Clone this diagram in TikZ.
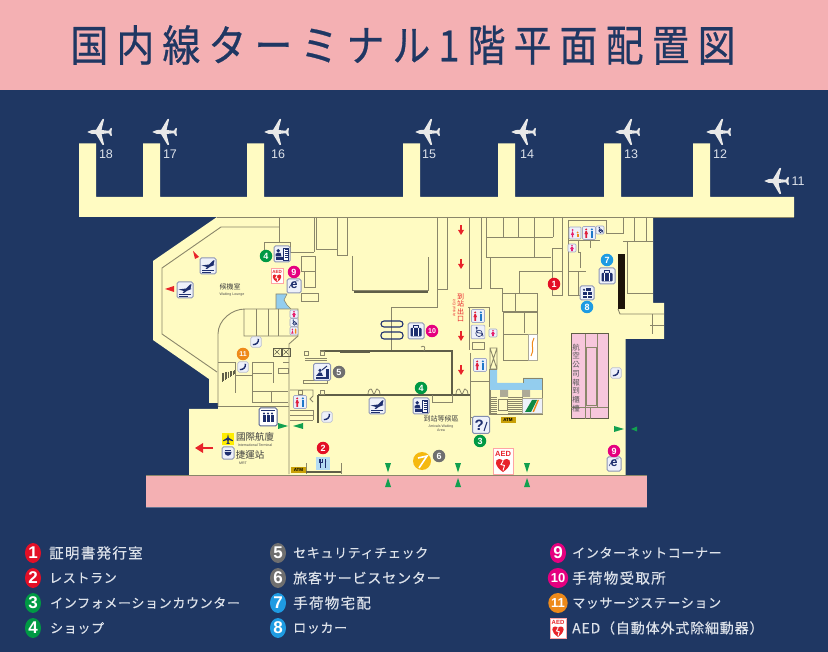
\documentclass[tikz,border=0pt]{standalone}
\usepackage{fontspec}
\usetikzlibrary{shapes.geometric}
\setmainfont{Liberation Sans}
\newfontfamily\jptitle[LetterSpace=19,FakeStretch=0.88,FakeBold=0.6]{Noto Sans CJK JP}
\newfontfamily\jpkana[LetterSpace=5,FakeBold=0.4]{Noto Sans CJK JP}
\newfontfamily\jpkanji[LetterSpace=9,FakeBold=0.4]{Noto Sans CJK JP}
\newfontfamily\jpmix[LetterSpace=6,FakeBold=0.4]{Noto Sans CJK JP}
\newfontfamily\tcfont{Noto Sans CJK TC}
\definecolor{navybg}{HTML}{1F3763}
\definecolor{headpink}{HTML}{F4B0B3}
\definecolor{floorc}{HTML}{FFFBC2}
\definecolor{wallc}{HTML}{8A866A}
\definecolor{wallk}{HTML}{5F5E48}
\definecolor{icnavy}{HTML}{1E2F6E}
\definecolor{icframe}{HTML}{8D95B5}
\definecolor{icfill}{HTML}{EEF1FA}
\definecolor{roomblue}{HTML}{93CDEE}
\definecolor{reddot}{HTML}{E30F26}
\definecolor{greendot}{HTML}{009944}
\definecolor{greydot}{HTML}{6F6F6F}
\definecolor{bluedot}{HTML}{1E9BE2}
\definecolor{magdot}{HTML}{E5007F}
\definecolor{orgdot}{HTML}{EE8A1A}
\definecolor{legtext}{HTML}{DDE2EA}
\definecolor{arrgreen}{HTML}{12A050}
\definecolor{arrred}{HTML}{E8242A}
\definecolor{atmc}{HTML}{C9A008}
\definecolor{pinkroom}{HTML}{F7C7DC}
\definecolor{toilm}{HTML}{1E78C8}
\definecolor{toilf}{HTML}{E6206E}
\definecolor{toilr}{HTML}{E0203C}
\tikzset{
  wall/.style={draw=wallc,line width=0.9pt},
  thickwall/.style={draw=wallk,line width=1.3pt},
  numdot/.style={circle,inner sep=0pt,minimum size=12.5pt,text=white,font=\bfseries\fontsize{9}{9}\selectfont},
  legdot/.style={ellipse,inner sep=0pt,minimum width=16pt,minimum height=20pt,text=white,font=\bfseries\fontsize{17}{17}\selectfont},
  legdotsm/.style={legdot,font=\bfseries\fontsize{13}{13}\selectfont},
  legkana/.style={anchor=west,inner sep=0pt,text=legtext,font=\jpkana\fontsize{13}{13}\selectfont},
  legkanji/.style={anchor=west,inner sep=0pt,text=legtext,font=\jpkanji\fontsize{14.5}{14.5}\selectfont},
  legmix/.style={anchor=west,inner sep=0pt,text=legtext,font=\jpmix\fontsize{14}{14}\selectfont},
  gatenum/.style={inner sep=0pt,text=legtext,font=\fontsize{12.5}{12.5}\selectfont},
  iconframe/.style={draw=icframe,fill=icfill,line width=1pt,rounded corners=1.5pt},
  tiny/.style={inner sep=0pt,text=black!70,font=\fontsize{3.6}{4.2}\selectfont,align=center},
  maplabel/.style={inner sep=0pt,text=black!75,font=\tcfont\fontsize{7}{7}\selectfont},
  vertred/.style={inner sep=0pt,text=arrred,align=center,font=\tcfont\fontsize{7}{7.5}\selectfont},
  vertgrey/.style={inner sep=0pt,text=black!65,align=center,font=\tcfont\fontsize{7.5}{8.75}\selectfont},
  atmtag/.style={fill=atmc,inner sep=0pt,minimum width=15pt,minimum height=6pt,text=black,font=\bfseries\fontsize{4.5}{4.5}\selectfont},
  greentip/.style={fill=arrgreen},
  redtip/.style={fill=arrred},
  gateplane/.pic={
    \fill[gray!18!white,rounded corners=0.6pt] (0,0) -- (5,-2) -- (9,-2) -- (15.5,-13) -- (17.2,-13) -- (14.5,-2) -- (22,-1.2) -- (23.6,-4) -- (25,-4) -- (24.4,0) -- (25,4) -- (23.6,4) -- (22,1.2) -- (14.5,2) -- (17.2,13) -- (15.5,13) -- (9,2) -- (5,2) -- cycle;
  },
  departic/.pic={
    \draw[iconframe] (-8,-8) rectangle (8,8);
    \fill[icnavy] (-6.5,-0.5) -- (1,-1.5) -- (5,-5.5) -- (6.5,-5.5) -- (5.5,-1.5) -- (6.5,-1) -- (2,0.8) -- (-1,3) -- (-2.5,3) -- (-1,1) -- cycle;
    \fill[icnavy] (-6,4.2) rectangle (6,5);
    \fill[icnavy] (-6,6) rectangle (3,6.6);
  },
  shopic/.pic={
    \draw[iconframe] (-8,-8) rectangle (8,8);
    \fill[icnavy] (-3.8,-3.2) circle (1.9);
    \fill[icnavy] (-6.5,2.5) -- (-6.5,0) -- (-4.5,-1.2) -- (-1.5,-1.2) -- (-0.5,2.5) -- cycle;
    \fill[icnavy] (-6.5,3.5) rectangle (1,6.2);
    \fill[white,draw=icnavy,line width=0.3pt] (1.5,-6) rectangle (6.5,6);
    \foreach \yy in {-4.5,-2.5,-0.5,1.5,3.5}{\draw[icnavy,line width=0.5pt] (2.5,\yy) -- (5.5,\yy);}
  },
  secic/.pic={
    \draw[iconframe] (-8.5,-8.5) rectangle (8.5,8.5);
    \fill[icnavy] (-2,-1.6) circle (1.7);
    \fill[icnavy] (-6,4) -- (-3,0.4) -- (-0.5,0.6) -- (1,4) -- cycle;
    \draw[icnavy,line width=1pt] (0,-2) -- (5,-6);
    \fill[icnavy] (3.5,-3) rectangle (6.5,6);
    \fill[icnavy] (-6.5,5) rectangle (6.5,6.6);
  },
  phoneic/.pic={
    \draw[draw=icframe!60,fill=icfill,line width=0.7pt,rounded corners=1.5pt] (-5.2,-5.2) rectangle (5.2,5.2);
    \draw[icnavy,line width=1.4pt] (2.4,-3.2) .. controls (2.8,0.6) and (0.4,2.8) .. (-3.2,2.6);
  },
  luggageic/.pic={
    \draw[iconframe] (-8,-8) rectangle (8,8);
    \fill[icnavy,rounded corners=0.8pt] (-5.5,-3) rectangle (5.5,5.5);
    \draw[icnavy,line width=0.9pt] (-2.2,-3) -- (-2.2,-5.5) -- (2.2,-5.5) -- (2.2,-3);
    \draw[white,line width=0.5pt] (-2.5,-3) -- (-2.5,5.5) (2.5,-3) -- (2.5,5.5);
  },
  lockeric/.pic={
    \draw[iconframe] (-7,-7) rectangle (7,7);
    \fill[icnavy] (-4.5,-1) rectangle (4.5,5);
    \fill[icnavy] (-1,-4.5) rectangle (3.5,-2);
    \fill[icnavy] (-3,-3.2) circle (1.2);
    \draw[white,line width=0.4pt] (-4.5,2) -- (4.5,2) (0,-1) -- (0,5);
  },
  eic/.pic={
    \draw[iconframe] (-7,-7) rectangle (7,7);
    \node[inner sep=0pt,text=icnavy,font=\bfseries\fontsize{12.5}{12.5}\selectfont] (e) at (0,-0.6) {e};
    \draw[icnavy,line width=0.5pt] (-5,2) .. controls (-3,-3) and (2,-6) .. (4.5,-5);
  },
  wcpair/.pic={
    \draw[draw=icframe!80,fill=icfill,line width=0.7pt,rounded corners=1pt] (-6.5,-6.5) rectangle (6.5,6.5);
    \fill[toilr] (-2.8,-3.6) circle (1.1);
    \fill[toilr] (-4.6,1.2) -- (-3.4,-2.2) -- (-2.2,-2.2) -- (-1,1.2) -- (-2,1.2) -- (-2,4.8) -- (-3.6,4.8) -- (-3.6,1.2) -- cycle;
    \fill[toilm] (2.8,-3.6) circle (1.1);
    \fill[toilm] (1.5,-2.2) rectangle (4.1,1.2);
    \fill[toilm] (1.8,1.2) rectangle (3.8,4.8);
  },
  wcmixbig/.pic={
    \draw[draw=icframe!80,fill=icfill,line width=0.7pt,rounded corners=1pt] (-6,-6) rectangle (6,6);
    \fill[toilf] (-2.5,-3) circle (1);
    \fill[toilf] (-4.2,2) -- (-2.5,-1.8) -- (-0.8,2) -- (-1.8,2) -- (-1.8,4.5) -- (-3.2,4.5) -- (-3.2,2) -- cycle;
    \fill[orgdot] (2.5,-0.5) circle (1);
    \fill[orgdot] (1.5,0.8) rectangle (3.5,4.5);
  },
  wcfem/.pic={
    \draw[draw=icframe!80,fill=icfill,line width=0.6pt,rounded corners=1pt] (-4,-4) rectangle (4,4);
    \fill[toilf] (0,-2.2) circle (0.9);
    \fill[toilf] (-2,1.2) -- (-0.7,-1.2) -- (0.7,-1.2) -- (2,1.2) -- (0.8,1.2) -- (0.8,3.2) -- (-0.8,3.2) -- (-0.8,1.2) -- cycle;
  },
  wcacc/.pic={
    \draw[draw=icframe!80,fill=icfill,line width=0.6pt,rounded corners=1pt] (-4,-4) rectangle (4,4);
    \draw[icnavy,line width=0.6pt] (0.6,0.8) circle (1.9);
    \fill[icnavy] (-0.8,-2.4) circle (0.7);
    \draw[icnavy,line width=0.7pt] (-0.8,-1.6) -- (-0.4,0.4) -- (2.4,0.8) -- (3,2.6);
  },
  wcmix/.pic={
    \draw[draw=icframe!80,fill=icfill,line width=0.6pt,rounded corners=1pt] (-4,-4) rectangle (4,4);
    \fill[toilf] (-1.6,-1.6) circle (0.8) (-2.8,2.6) -- (-1.6,-0.8) -- (-0.4,2.6) -- cycle;
    \fill[orgdot] (1.6,-1.6) circle (0.8) (0.8,-0.8) rectangle (2.4,2.6);
  },
  aedic/.pic={
    \draw[draw=red!35!pink!70,fill=white,line width=1pt] (-10,-12.5) rectangle (10,12.5);
    \node[inner sep=0pt,text=arrred,transform shape,font=\bfseries\fontsize{7.5}{7.5}\selectfont] (t) at (0,-7.5) {AED};
    \fill[arrred] (0,10.5) .. controls (-9,4.5) and (-8.5,-2.5) .. (-3.8,-2.5) .. controls (-2,-2.5) and (-0.6,-1.6) .. (0,-0.5) .. controls (0.6,-1.6) and (2,-2.5) .. (3.8,-2.5) .. controls (8.5,-2.5) and (9,4.5) .. (0,10.5) -- cycle;
    \draw[white,line width=0.9pt] (0,-0.5) -- (-2,3) -- (1.5,4) -- (0,9);
  },
  gatelevator/.pic={
    \draw[draw=icnavy!75,fill=white,line width=1pt,rounded corners=1.5pt] (-9,-9) rectangle (9,9);
    \foreach \xx in {-4,0,4}{
      \fill[icnavy] (\xx,-3.5) circle (1.2);
      \fill[icnavy] (\xx-1.5,-2) rectangle (\xx+1.5,5.5);
    }
    \fill[icnavy] (-7,-7) rectangle (7,-6.2);
  },
  foodic/.pic={
    \fill[roomblue!70] (-7,-6.5) rectangle (7,6.5);
    \draw[icnavy,line width=1pt] (-2.4,-4.5) -- (-2.4,4.5) (2.2,-4.5) -- (2.2,4.5);
    \draw[icnavy,line width=0.5pt] (-3.6,-4.5) -- (-3.6,-1) -- (-1.2,-1) -- (-1.2,-4.5);
    \fill[icnavy] (2.2,-4.5) .. controls (3.6,-3) and (3.4,-1) .. (2.2,-0.5) -- cycle;
  },
  infoic/.pic={
    \draw[draw=icnavy!55,fill=icfill,line width=1pt,rounded corners=1.5pt] (-8.5,-8.5) rectangle (8.5,8.5);
    \node[inner sep=0pt,text=icnavy,font=\bfseries\fontsize{15}{15}\selectfont] (q) at (-1.8,0) {?};
    \draw[icnavy,line width=1pt] (6,-3) -- (3,6);
  },
  evaic/.pic={
    \draw[draw=wallc!70,fill=icfill,line width=0.8pt] (-10,-7.5) rectangle (10,7.5);
    \fill[arrgreen!85!black] (-7,6) -- (0,-6) -- (5,-6) -- (-1,6) -- cycle;
    \fill[orgdot] (5.5,-6) -- (7,-6) -- (2,6) -- (0.5,6) -- cycle;
  },
  mrtic/.pic={
    \draw[iconframe] (-6,-6) rectangle (6,6);
    \fill[icnavy] (-3.5,-1) arc[start angle=180,end angle=360,x radius=3.5,y radius=-3.8] -- cycle;
    \draw[icnavy,line width=0.7pt] (-2.8,-2.6) -- (2.8,-2.6);
  },
  airportic/.pic={
    \fill[yellow!95!orange] (-6,-6) rectangle (6,6);
    \fill[icnavy] (0,-5) -- (0.8,-1.2) -- (4.8,1.2) -- (4.8,2.2) -- (0.8,1) -- (0.6,3.6) -- (1.8,4.8) -- (-1.8,4.8) -- (-0.6,3.6) -- (-0.8,1) -- (-4.8,2.2) -- (-4.8,1.2) -- (-0.8,-1.2) -- cycle;
  },
  xbox/.pic={
    \draw[wallk,line width=0.6pt] (-4,-4) rectangle (4,4);
    \draw[wallk,line width=0.6pt] (-2.5,-2.5) -- (2.5,2.5) (-2.5,2.5) -- (2.5,-2.5);
  },
  stairs/.pic={
    \foreach \xx in {0,1.6,...,13}{\draw[wallk,line width=0.7pt] (\xx,5-\xx*0.2) -- (\xx,14-\xx*0.6);}
  },
  bagdoor/.pic={
    \draw[wallc,line width=0.8pt] (0,5) .. controls (0,0) and (3,0) .. (3,0) .. controls (4,0) and (5,5) .. (6,5) .. controls (7,5) and (8,0) .. (9,0) .. controls (11,0) and (12,3) .. (12,5);
  },
}
\begin{document}
\begin{tikzpicture}[x=1pt,y=-1pt]
\useasboundingbox (0,0) rectangle (828,652);
% backgrounds
\fill[navybg] (0,0) rectangle (828,652);
\fill[headpink] (0,0) rectangle (828,90);
\node[inner sep=0pt,text=navybg,font=\jptitle\fontsize{43}{43}\selectfont] (title) at (403,45) {国内線ターミナル1階平面配置図};
% floor
\fill[floorc] (79,143.5) -- (96,143.5) -- (96,197) -- (143,197) -- (143,143.5) -- (160,143.5) -- (160,197) -- (247,197) -- (247,143.5) -- (264,143.5) -- (264,197) -- (403,197) -- (403,143.5) -- (420,143.5) -- (420,197) -- (498,197) -- (498,143.5) -- (515,143.5) -- (515,197) -- (604,197) -- (604,143.5) -- (621,143.5) -- (621,197) -- (693,197) -- (693,143.5) -- (710,143.5) -- (710,197) -- (794,197) -- (794,217) -- (653,217) -- (653,303) -- (664,303) -- (664,339) -- (625.5,339) -- (625.5,475) -- (189,475) -- (189,409) -- (218,409) -- (218,403) -- (209,403) -- (209,379) -- (153,340) -- (153,261) -- (217,217) -- (79,217) -- cycle;
\fill[headpink] (146,475) rectangle (647,507);
\draw[wallc,line width=0.7pt] (146,475) -- (647,475);
\draw[navybg!70!white,line width=0.5pt] (146,507) -- (647,507);
% planes and gate numbers
\pic (p18) at (87,132) {gateplane};
\pic (p17) at (152,132) {gateplane};
\pic (p16) at (264,132) {gateplane};
\pic (p15) at (415,132) {gateplane};
\pic (p14) at (511,132) {gateplane};
\pic (p13) at (615,132) {gateplane};
\pic (p12) at (706,132) {gateplane};
\pic (p11) at (764,181) {gateplane};
\node[gatenum] (g18) at (106,154) {18};
\node[gatenum] (g17) at (170,154) {17};
\node[gatenum] (g16) at (278,154) {16};
\node[gatenum] (g15) at (429,154) {15};
\node[gatenum] (g14) at (527,154) {14};
\node[gatenum] (g13) at (631,154) {13};
\node[gatenum] (g12) at (720,154) {12};
\node[gatenum] (g11) at (798,181) {11};
% light coloured rooms
\fill[roomblue] (276,294) -- (287,294) -- (284,300) -- (287,305) -- (291,309) -- (276,309) -- cycle;
\draw[wallc,line width=0.6pt] (276,309) -- (276,294) -- (287,294) -- (284,300) -- (287,305) -- (291,309);
\fill[roomblue] (490,369) -- (497,369) -- (497,383) -- (523,383) -- (523,378) -- (542,378) -- (542,390) -- (490,390) -- cycle;
\draw[wallc,line width=0.7pt] (490,369) -- (497,369) (523,383) -- (523,378) -- (542,378) -- (542,390);
% upper-left walls
\draw[wall] (279,227) -- (221,227) -- (162,268) -- (162,334) -- (217,372);
\draw[wall] (217,217) -- (794,217);
\draw[wall] (279,217) -- (279,242) -- (264,242) -- (264,251);
\draw[wall] (279,242) -- (290,242) -- (290,252) -- (314,252);
\draw[wall] (314,217) -- (314,252);
\draw[wall] (316,217) -- (316,249) -- (337,249) (337,217) -- (337,255) -- (347,255) -- (347,217);
\draw[wall] (301,256) rectangle (315,271);
\draw[wall] (304,271) rectangle (315,287);
\draw[wall] (301,293) rectangle (318,301);
\draw[wall] (352,256) -- (352,290) -- (428,290) -- (428,257);
\draw[thickwall] (354,292) -- (428,292);
\draw[wall] (437,217) -- (437,307) -- (391,307) -- (391,351);
\draw[wall] (447,217) -- (447,289) -- (437,289);
% lounge stalls
\draw[wall] (218,406) -- (218,334) .. controls (218,320) and (232,309) .. (245,309) -- (298,309) -- (298,336) -- (244,336) -- (244,309);
\draw[wall] (256,309) -- (256,336) (268,309) -- (268,336) (278,309) -- (278,336);
\draw[wall] (298,336) -- (289,344) -- (289,474);
\draw[wall] (218,406) -- (289,406);
% massage area rooms
\draw[wall] (218,362) -- (235,362) -- (235,393);
\draw[wall] (235,375) -- (252,375);
\draw[wall] (252,362) -- (252,402) -- (288,402);
\draw[wall] (252,362) -- (273,362) -- (273,383);
\draw[wall] (252,373) -- (272,373);
\draw[wall] (252,391) -- (288,391) (271,391) -- (271,402);
\draw[wall] (278,368) rectangle (288,373);
\draw[wall] (283,362) -- (289,362);
\pic (st1) at (222,368) {stairs};
\pic (xb1) at (277,352) {xbox};
\pic (xb2) at (286,352) {xbox};
% restroom block by security
\draw[wall] (290,390) -- (313,390) -- (313,396) -- (310,399) -- (313,402);
\draw[wall] (290,410) -- (313,410) (290,415) -- (313,415) (290,420) -- (313,420) (313,410) -- (313,420);
% security zone
\draw[thickwall] (320,351) -- (452,351) -- (452,395);
\draw[thickwall] (318,395) -- (470,395);
\draw[thickwall] (318,395) -- (318,423);
\draw[wallk,line width=2.6pt] (340,352) -- (370,352);
\draw[wallc,fill=floorc,line width=0.7pt] (304,351) rectangle (308,355) (320,351) rectangle (324,355);
\draw[wallc,line width=0.9pt] (305,358) -- (327,358) (305,360) -- (327,360);
\draw[wallc,line width=0.9pt] (303,380) rectangle (327,383);
\draw[wallc,fill=floorc,line width=0.7pt] (320,390) rectangle (324,394) (298,390) rectangle (302,394);
\pic (bd1) at (368,389) {bagdoor};
\pic (bd2) at (456,389) {bagdoor};
\draw[wallc,line width=0.8pt] (421,347) .. controls (424,345) and (426,347) .. (424,351);
\draw[wallc,line width=0.7pt] (432,395) -- (432,402) -- (452,402) -- (452,395);
% baggage carousels
\draw[icnavy,line width=1.1pt,rounded corners=3pt] (381,321) rectangle (403,327);
\draw[icnavy,line width=1.1pt,rounded corners=3pt] (381,332) rectangle (403,339);
% restaurant nook
\draw[wall] (306,463) -- (306,474) (341,463) -- (341,474);
\draw[thickwall] (306,472) -- (341,472);
% centre-right rooms
\draw[wall] (469,217) rectangle (481,288);
\draw[wall] (486,217) -- (486,257) -- (551,257);
\draw[wall] (486,237) -- (553,237);
\draw[wall] (503,217) -- (503,237) (518,217) -- (518,237) (534,217) -- (534,257) (553,217) -- (553,237) (562,217) -- (562,295) -- (552,295) -- (552,248) -- (562,248) (552,271) -- (562,271);
\draw[wall] (490,257) -- (490,288) -- (502,288) -- (502,311);
\draw[wall] (502,293) rectangle (537,311);
\draw[wall] (515,293) -- (515,311);
\draw[wall] (519,271) -- (519,293) (519,271) -- (552,271);
\draw[wall] (503,312) rectangle (537,360);
\draw[wall] (524,312) -- (524,333) (503,334) -- (528,334) -- (528,360);
\fill[white,draw=wallc!70,line width=0.5pt] (528,334) rectangle (537,360);
\draw[orgdot,line width=1pt] (534,338) .. controls (530,344) and (535,350) .. (531,356);
% right rooms
\draw[wall] (568,220) -- (606,220) -- (606,233) -- (623,233) -- (623,217);
\draw[wall] (568,220) -- (568,295) -- (580,295) (578,271) -- (578,295) (568,271) -- (586,271);
\draw[wall] (568,240) -- (578,240) -- (578,252) -- (580,252) -- (580,268) (590,240) -- (590,248) (576,240) -- (600,240);
\draw[wall] (634,217) -- (634,241) (646,217) -- (646,241) (623,241) -- (653,241) (627,241) -- (627,293) -- (653,293);
\fill[black!85!brown] (618,254) rectangle (625,309);
\draw[wall] (618,309) -- (620,314) -- (664,314);
\draw[wall] (650,325) -- (664,325) (652,314) -- (652,334);
% central facilities
\draw[wall] (468,307) -- (489,307) -- (489,327) (469,307) -- (469,350) (470,353) -- (470,425);
\draw[wall] (489,369) -- (489,415) (471,381) -- (489,381) (471,417) -- (489,417);
\draw[wall] (490,348) rectangle (497,369) (490,348) -- (497,369) (497,348) -- (490,369);
\draw[wall] (472,342) rectangle (484,349);
\draw[wall] (490,390) -- (490,414) -- (522,414) (522,390) -- (522,414) -- (542,414) -- (542,390);
\fill[wallc!70] (500,390) rectangle (508,397) (522,390) rectangle (530,397);
\foreach \yy in {397,399,...,413}{\draw[wallc,line width=0.5pt] (490,\yy) -- (497,\yy) (508,\yy) -- (522,\yy);}
\draw[wall,fill=floorc] (498,399) rectangle (507,410);
% airline counters
\fill[pinkroom,draw=wallk,line width=1pt] (571,334) rectangle (608,419);
\draw[wallc,line width=0.8pt] (585,334) -- (585,419) (571,407) -- (608,407) (597,334) -- (597,407) (586,347) rectangle (596,405) (590,407) -- (590,419);
\node[vertgrey] (airline) at (576,378) {航\\空\\公\\司\\報\\到\\櫃\\檯};
% red flow arrows
\foreach \yy/\nm in {230/a1,264/a2,336/a3,370/a4}{
  \coordinate (ft\nm) at (461,\yy-5);
  \coordinate (ht\nm) at (461,\yy+5);
  \draw[arrred,line width=1.1pt] (ft\nm) -- (461,\yy+1);
  \fill[arrred] (458,\yy) -- (464,\yy) -- (ht\nm) -- cycle;
}
\node[vertred] (exitcn) at (460.5,308) {到\\站\\出\\口};
\node[inner sep=0pt,rotate=90,text=arrred,font=\fontsize{3.6}{3.6}\selectfont] (exiten) at (454,308) {Arrival Exit};
% labels
\node[maplabel] (wait) at (230,287) {候機室};
\node[tiny] (waiten) at (232,295) {Waiting Lounge};
\node[maplabel] (arrw) at (441,419) {到站等候區};
\node[tiny] (arrwen) at (441,428.5) {Arrivals Waiting\\Area};
\node[inner sep=0pt,text=black!75,font=\tcfont\fontsize{9.5}{9.5}\selectfont] (intl) at (255,437) {國際航廈};
\node[inner sep=0pt,text=black!70,font=\fontsize{3.6}{3.6}\selectfont] (intlen) at (255,445) {International Terminal};
\node[inner sep=0pt,text=black!75,font=\tcfont\fontsize{9.5}{9.5}\selectfont] (mrt) at (250,455) {捷運站};
\node[inner sep=0pt,text=black!70,font=\fontsize{3.6}{3.6}\selectfont] (mrten) at (243,463) {MRT};
\node[atmtag] (atm1) at (298.5,470) {ATM};
\node[atmtag] (atm2) at (508,420) {ATM};
% red arrow to international terminal
\coordinate (rtail) at (213,448);
\coordinate (rhead) at (195,448);
\draw[arrred,line width=1.8pt] (rtail) -- (202,448);
\fill[arrred] (203,443) -- (203,453) -- (rhead) -- cycle;
% red wedges
\fill[arrred] (193,251) -- (199,257) -- (195,259) -- cycle;
\fill[arrred] (165,289) -- (174,286) -- (174,292) -- cycle;
% green arrows
\fill[greentip] (278,423) -- (278,429) -- (288,426) -- cycle;
\fill[greentip] (303,423) -- (303,429) -- (293,426) -- cycle;
\foreach \xx in {388,458,527}{
  \fill[greentip] (\xx-3,463) -- (\xx+3,463) -- (\xx,472.5) -- cycle;
  \fill[greentip] (\xx-3,487) -- (\xx+3,487) -- (\xx,478) -- cycle;
}
\fill[greentip] (614,426) -- (614,432) -- (624,429) -- cycle;
\fill[greentip] (637,426.5) -- (637,431.5) -- (631,429) -- cycle;
% icons
\pic (ic1) at (208,266) {departic};
\pic (ic2) at (185,290) {departic};
\pic (ic3) at (377,406) {departic};
\pic (ic4) at (282,254) {shopic};
\pic (ic5) at (421,406) {shopic};
\pic (ic6) at (256,342) {phoneic};
\pic (ic7) at (243,367) {phoneic};
\pic (ic8) at (327,417) {phoneic};
\pic (ic9) at (616,373) {phoneic};
\pic (ic10) at (416,331) {luggageic};
\pic (ic11) at (607,276) {luggageic};
\pic (ic12) at (587,293) {lockeric};
\pic (ic13) at (322,372) {secic};
\pic (ic14) at (294,286) {eic};
\pic (ic15) at (614,464) {eic};
\pic (ic16) at (300,402) {wcpair};
\pic (ic17) at (478,316) {wcpair};
\pic (ic18) at (480,365) {wcpair};
\pic (ic19) at (589,233) {wcpair};
\pic (ic20) at (575,233) {wcmixbig};
\pic (ic21) at (294,314) {wcfem};
\pic (ic22) at (294,322.5) {wcacc};
\pic (ic23) at (294,331) {wcmix};
\pic (ic24) at (493,333) {wcfem};
\pic[scale=1.7] (ic25) at (478,332) {wcacc};
\pic (ic26) at (572,248) {wcfem};
\pic (ic27) at (600,230) {wcacc};
\pic (ic28) at (268,417) {gatelevator};
\pic (ic29) at (323,463.5) {foodic};
\pic (ic30) at (481,425) {infoic};
\pic (ic31) at (532,406) {evaic};
\pic (ic32) at (228,439) {airportic};
\pic (ic33) at (228,453) {mrtic};
\pic (ic34) at (503,461.5) {aedic};
\pic[scale=0.6] (ic35) at (277,276) {aedic};
% yellow service mark
\fill[orgdot!60!yellow] (422,461) circle (9);
\draw[white,line width=1.6pt] (418,458) -- (427,456) -- (419,468);
% numbered markers on the map
\node[numdot,fill=reddot] (m1) at (554,284) {1};
\node[numdot,fill=reddot] (m2) at (323,448) {2};
\node[numdot,fill=greendot] (m3) at (480,441) {3};
\node[numdot,fill=greendot] (m4a) at (266,256) {4};
\node[numdot,fill=greendot] (m4b) at (421,388) {4};
\node[numdot,fill=greydot] (m5) at (339,372) {5};
\node[numdot,fill=greydot] (m6) at (439,456) {6};
\node[numdot,fill=bluedot] (m7) at (607,260) {7};
\node[numdot,fill=bluedot] (m8) at (587,307) {8};
\node[numdot,fill=magdot] (m9a) at (294,272) {9};
\node[numdot,fill=magdot] (m9b) at (614,451) {9};
\node[numdot,fill=magdot,font=\bfseries\fontsize{7}{7}\selectfont] (m10) at (432,331) {10};
\node[numdot,fill=orgdot,font=\bfseries\fontsize{7}{7}\selectfont] (m11) at (243,354) {11};
% legend
\node[legdot,fill=reddot] (l1) at (33,553) {1};
\node[legdot,fill=reddot] (l2) at (33,578) {2};
\node[legdot,fill=greendot] (l3) at (33,603) {3};
\node[legdot,fill=greendot] (l4) at (33,628) {4};
\node[legdot,fill=greydot] (l5) at (278,553) {5};
\node[legdot,fill=greydot] (l6) at (278,578) {6};
\node[legdot,fill=bluedot] (l7) at (278,603) {7};
\node[legdot,fill=bluedot] (l8) at (278,628) {8};
\node[legdot,fill=magdot] (l9) at (558,553) {9};
\node[legdotsm,fill=magdot] (l10) at (558,578) {10};
\node[legdotsm,fill=orgdot] (l11) at (558,603) {11};
\pic[scale=0.8] (l12) at (558,628.5) {aedic};
\node[legkanji] (t1) at (49,553) {証明書発行室};
\node[legkana] (t2) at (49,578) {レストラン};
\node[legkana] (t3) at (50,603) {インフォメーションカウンター};
\node[legkana] (t4) at (50,628) {ショップ};
\node[legkana] (t5) at (293,553) {セキュリティチェック};
\node[legmix] (t6) at (293,578) {旅客サービスセンター};
\node[legkanji] (t7) at (293,603) {手荷物宅配};
\node[legkana] (t8) at (293,628) {ロッカー};
\node[legkana] (t9) at (572,553) {インターネットコーナー};
\node[legkanji] (t10) at (572,578) {手荷物受取所};
\node[legkana] (t11) at (572,603) {マッサージステーション};
\node[legmix] (t12) at (572,628) {AED（自動体外式除細動器）};
\end{tikzpicture}
\end{document}
